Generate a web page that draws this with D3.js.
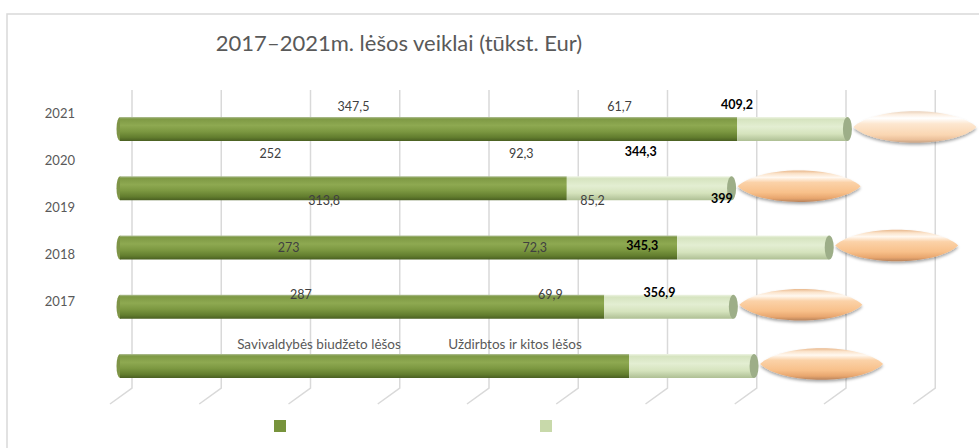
<!DOCTYPE html>
<html><head><meta charset="utf-8">
<script src="https://cdnjs.cloudflare.com/ajax/libs/d3/7.8.5/d3.min.js"></script>
<style>html,body{margin:0;padding:0;background:#fff;overflow:hidden}</style>
</head><body><svg id="c" width="979" height="448"></svg>
<script>
const years = ["2021","2020","2019","2018","2017"];
const budget = [347.5, 252, 313.8, 273, 287];
const earned = [61.7, 92.3, 85.2, 72.3, 69.9];
const totals = [409.2, 344.3, 399, 345.3, 356.9];
const budgetLabels = ["347,5","252","313,8","273","287"];
const earnedLabels = ["61,7","92,3","85,2","72,3","69,9"];
const totalLabels = ["409,2","344,3","399","345,3","356,9"];
const seriesNames = ["Savivaldybės biudžeto lėšos","Uždirbtos ir kitos lėšos"];
const xTicks = [0,50,100,150,200,250,300,350,400,450];
const title = "2017–2021m. lėšos veiklai (tūkst. Eur)";

const svg = d3.select("#c");
const FONT = "Lato, 'Open Sans', sans-serif";
const depth = 15;

const x = d3.scaleLinear().domain([0,450]).range([117, 117+450*1.785]);
const yBar = d3.scalePoint().domain(years).range([129, 366]);
const yLab = d3.scalePoint().domain(years).range([113, 301]);
// label placement scales (Excel 3D label projection)
const xL1 = d3.scaleLinear().domain([0,200]).range([51, 51+200*1.741]);
const xL2 = d3.scaleLinear().domain([0,400]).range([156, 156+400*1.225]);
const xL3 = d3.scaleLinear().domain([0,450]).range([130.5, 130.5+450*1.482]);
const legSq = d3.scalePoint().domain(seriesNames).range([280, 546]);
const legTx = d3.scalePoint().domain(seriesNames).range([319, 515]);

const defs = svg.append("defs");
function grad(id, stops){
  const g = defs.append("linearGradient").attr("id",id).attr("x1",0).attr("y1",0).attr("x2",0).attr("y2",1);
  stops.forEach(s=>g.append("stop").attr("offset",s[0]).attr("stop-color",s[1]));
}
grad("gDark",[["0%","#B3C19A"],["8%","#7E9944"],["35%","#8EA951"],["60%","#7C9841"],["85%","#627D2E"],["100%","#4A5F22"]]);
grad("gLight",[["0%","#EEF4E4"],["10%","#D6E4C0"],["40%","#E3EED2"],["70%","#D5E3BD"],["100%","#AEBF94"]]);
grad("gLens",[["0%","#E9B88C"],["10%","#FBE3CA"],["22%","#FFF8F0"],["38%","#FBD2A8"],["70%","#F8C08A"],["88%","#E8A66E"],["100%","#B8835C"]]);
grad("gLensPale",[["0%","#EAD2BC"],["10%","#FCEEE0"],["22%","#FFFFFF"],["40%","#FDE7D0"],["75%","#FAD6B2"],["90%","#EBC09A"],["100%","#C4A286"]]);
const f = defs.append("filter").attr("id","sh").attr("x","-10%").attr("y","-30%").attr("width","120%").attr("height","170%");
f.append("feDropShadow").attr("dx",0).attr("dy",2).attr("stdDeviation",1.6).attr("flood-color","#000").attr("flood-opacity",0.35);

// frame
svg.append("rect").attr("x",7).attr("y",14).attr("width",1200).attr("height",1000)
  .attr("fill","none").attr("stroke","#D9D9D9").attr("stroke-width",1.5);

// title
svg.append("text").attr("x",399).attr("y",51).attr("text-anchor","middle")
  .attr("font-family",FONT).attr("font-size",22).attr("fill","#595959").text(title);

// gridlines (back wall + floor)
const grid = svg.append("g").attr("stroke","#D9D9D9").attr("stroke-width",1.5).attr("fill","none");
xTicks.forEach(t=>{
  const gx = x(t)+depth;
  grid.append("path").attr("d",`M${gx},90 L${gx},388 L${gx-22},404`);
});

// bars
const bars = svg.append("g");
years.forEach((yr,i)=>{
  const cy = yBar(yr), h = 24, y0 = cy-h/2;
  const x0 = x(0), x1 = x(budget[i]), x2 = x(budget[i]+earned[i]);
  const g = bars.append("g");
  g.append("ellipse").attr("cx",x0+3).attr("cy",cy).attr("rx",3.5).attr("ry",h/2).attr("fill","#7E9446");
  g.append("rect").attr("x",x0+3).attr("y",y0).attr("width",x1-x0-3).attr("height",h).attr("fill","url(#gDark)");
  g.append("rect").attr("x",x1).attr("y",y0).attr("width",x2-x1).attr("height",h).attr("fill","url(#gLight)");
  g.append("ellipse").attr("cx",x2).attr("cy",cy).attr("rx",4.5).attr("ry",h/2).attr("fill","#9DAE88");
  // lens shape
  const lw = 123, k = 21, lx = x2+6, ly = cy-2;
  g.append("path")
    .attr("d",`M${lx},${ly} C${lx+lw*0.18},${ly-k} ${lx+lw*0.82},${ly-k} ${lx+lw},${ly} C${lx+lw*0.82},${ly+k} ${lx+lw*0.18},${ly+k} ${lx},${ly} Z`)
    .attr("fill", i===0 ? "url(#gLensPale)" : "url(#gLens)").attr("filter","url(#sh)");
});

// y axis labels
const ax = svg.append("g").attr("font-family",FONT).attr("font-size",13).attr("fill","#595959");
years.forEach(yr=>{
  ax.append("text").attr("x",75).attr("y",yLab(yr)).attr("dy","0.35em").attr("text-anchor","end").text(yr);
});

// data labels
const dl = svg.append("g").attr("font-family",FONT).attr("font-size",12.5).attr("text-anchor","middle");
years.forEach((yr,i)=>{
  const ly = yLab(yr)-6;
  dl.append("text").attr("x",xL1(budget[i]/2)).attr("y",ly).attr("dy","0.35em").attr("fill","#404040").text(budgetLabels[i]);
  dl.append("text").attr("x",xL2(budget[i]+earned[i]/2)).attr("y",ly).attr("dy","0.35em").attr("fill","#404040").text(earnedLabels[i]);
  dl.append("text").attr("x",xL3(totals[i])).attr("y",ly-2).attr("dy","0.35em").attr("fill","#000").attr("font-weight","bold").text(totalLabels[i]);
});

// legend
const legY = yLab(years[years.length-1]) + yLab.step();
const leg = svg.append("g").attr("font-family",FONT).attr("font-size",13.5).attr("fill","#595959");
const legColors = ["#77933C","#C8D9AA"];
seriesNames.forEach((s,i)=>{
  leg.append("text").attr("x",legTx(s)).attr("y",legY-4).attr("dy","0.35em").attr("text-anchor","middle").text(s);
  leg.append("rect").attr("x",legSq(s)-6).attr("y",420).attr("width",12).attr("height",12).attr("fill",legColors[i]);
});
</script></body></html>
